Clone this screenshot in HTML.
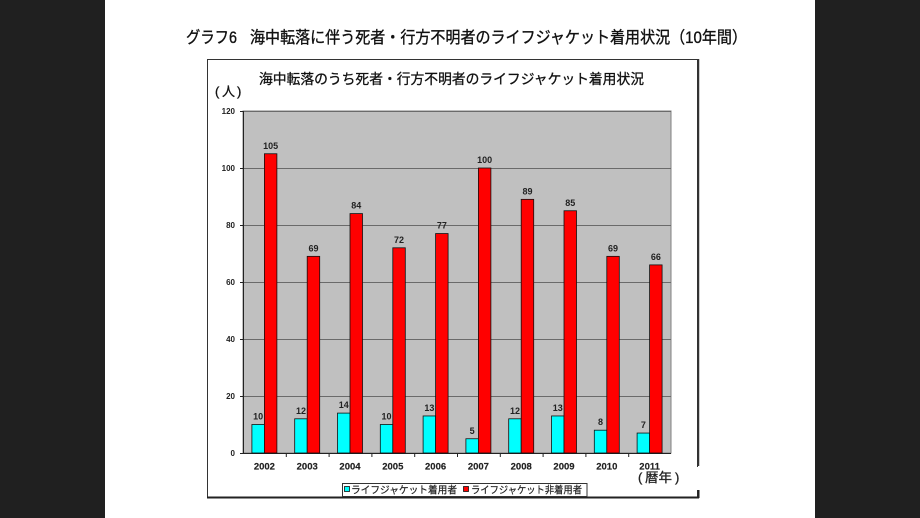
<!DOCTYPE html>
<html><head><meta charset="utf-8"><style>
html,body{margin:0;padding:0;background:#202020;}
svg{display:block;}
</style></head><body>
<svg width="920" height="518" viewBox="0 0 920 518" xmlns="http://www.w3.org/2000/svg" font-family="'Liberation Sans','Noto Sans CJK JP',sans-serif">
<rect x="0" y="0" width="920" height="518" fill="#202020"/>
<rect x="105" y="0" width="710" height="518" fill="#ffffff"/>

<!-- main title -->
<text x="186" y="43" font-size="16.5" fill="#111" stroke="#111" stroke-width="0.35" textLength="51" lengthAdjust="spacingAndGlyphs">グラフ6</text>
<text x="250" y="43" font-size="16.5" fill="#111" stroke="#111" stroke-width="0.35" textLength="497" lengthAdjust="spacingAndGlyphs">海中転落に伴う死者・行方不明者のライフジャケット着用状況（10年間）</text>

<!-- chart box -->
<rect x="207.5" y="59.5" width="490" height="437.5" fill="#fff" stroke="#333" stroke-width="1"/>
<line x1="207" y1="497.5" x2="699" y2="497.5" stroke="#222" stroke-width="2"/>
<line x1="698.5" y1="59" x2="698.5" y2="466" stroke="#333" stroke-width="1.5"/>
<rect x="690" y="467" width="12" height="23" fill="#fff"/>
<line x1="698.5" y1="490" x2="698.5" y2="498" stroke="#222" stroke-width="2"/>

<!-- chart title -->
<text x="259" y="84" font-size="14" fill="#111" stroke="#111" stroke-width="0.3" textLength="385" lengthAdjust="spacingAndGlyphs">海中転落のうち死者・行方不明者のライフジャケット着用状況</text>
<g font-size="13" fill="#111" stroke="#111" stroke-width="0.3">
<text x="215" y="96">(</text>
<text x="222" y="96">人</text>
<text x="237" y="96">)</text>
</g>

<!-- plot area -->
<rect x="243" y="111" width="428" height="342" fill="#c0c0c0" stroke="#808080" stroke-width="1"/>
<g stroke="#6a6a6a" stroke-width="1">
<line x1="243" y1="396.5" x2="671" y2="396.5"/>
<line x1="243" y1="339.5" x2="671" y2="339.5"/>
<line x1="243" y1="282.5" x2="671" y2="282.5"/>
<line x1="243" y1="225.5" x2="671" y2="225.5"/>
<line x1="243" y1="168.5" x2="671" y2="168.5"/>
<line x1="243" y1="111.5" x2="671" y2="111.5"/>
</g>
<g stroke="#222" stroke-width="1">
<line x1="243.5" y1="111" x2="243.5" y2="453"/>
<line x1="240" y1="453.5" x2="671" y2="453.5"/>
<line x1="240" y1="396.5" x2="243" y2="396.5"/>
<line x1="240" y1="339.5" x2="243" y2="339.5"/>
<line x1="240" y1="282.5" x2="243" y2="282.5"/>
<line x1="240" y1="225.5" x2="243" y2="225.5"/>
<line x1="240" y1="168.5" x2="243" y2="168.5"/>
<line x1="240" y1="111.5" x2="243" y2="111.5"/>
<line x1="286.3" y1="453" x2="286.3" y2="457"/>
<line x1="329.1" y1="453" x2="329.1" y2="457"/>
<line x1="371.9" y1="453" x2="371.9" y2="457"/>
<line x1="414.7" y1="453" x2="414.7" y2="457"/>
<line x1="457.5" y1="453" x2="457.5" y2="457"/>
<line x1="500.3" y1="453" x2="500.3" y2="457"/>
<line x1="543.1" y1="453" x2="543.1" y2="457"/>
<line x1="585.9" y1="453" x2="585.9" y2="457"/>
<line x1="628.7" y1="453" x2="628.7" y2="457"/>
</g>

<!-- y labels -->
<g font-size="8" font-weight="bold" fill="#222" text-anchor="end">
<text x="235" y="456">0</text>
<text x="235" y="399">20</text>
<text x="235" y="342">40</text>
<text x="235" y="285">60</text>
<text x="235" y="228">80</text>
<text x="235" y="171">100</text>
<text x="235" y="114">120</text>
</g>

<!-- bars cyan -->
<g fill="#00ffff" stroke="#111" stroke-width="0.8">
<rect x="251.9" y="424.5" width="12.5" height="28.5"/>
<rect x="294.7" y="418.8" width="12.5" height="34.2"/>
<rect x="337.5" y="413.1" width="12.5" height="39.9"/>
<rect x="380.3" y="424.5" width="12.5" height="28.5"/>
<rect x="423.1" y="415.95" width="12.5" height="37.05"/>
<rect x="465.9" y="438.75" width="12.5" height="14.25"/>
<rect x="508.7" y="418.8" width="12.5" height="34.2"/>
<rect x="551.5" y="415.95" width="12.5" height="37.05"/>
<rect x="594.3" y="430.2" width="12.5" height="22.8"/>
<rect x="637.1" y="433.05" width="12.5" height="19.95"/>
</g>
<!-- bars red -->
<g fill="#ff0000" stroke="#111" stroke-width="0.8">
<rect x="264.4" y="153.75" width="12.5" height="299.25"/>
<rect x="307.2" y="256.35" width="12.5" height="196.65"/>
<rect x="350.0" y="213.6" width="12.5" height="239.4"/>
<rect x="392.8" y="247.8" width="12.5" height="205.2"/>
<rect x="435.6" y="233.55" width="12.5" height="219.45"/>
<rect x="478.4" y="168" width="12.5" height="285"/>
<rect x="521.2" y="199.35" width="12.5" height="253.65"/>
<rect x="564.0" y="210.75" width="12.5" height="242.25"/>
<rect x="606.8" y="256.35" width="12.5" height="196.65"/>
<rect x="649.6" y="264.9" width="12.5" height="188.1"/>
</g>

<!-- value labels -->
<g font-size="9" font-weight="bold" fill="#222" text-anchor="middle">
<text x="258.15" y="419.5">10</text>
<text x="300.95" y="413.8">12</text>
<text x="343.75" y="408.1">14</text>
<text x="386.55" y="419.5">10</text>
<text x="429.35" y="410.95">13</text>
<text x="472.15" y="433.75">5</text>
<text x="514.95" y="413.8">12</text>
<text x="557.75" y="410.95">13</text>
<text x="600.55" y="425.2">8</text>
<text x="643.35" y="428.05">7</text>
<text x="270.65" y="148.75">105</text>
<text x="313.45" y="251.35">69</text>
<text x="356.25" y="208.6">84</text>
<text x="399.05" y="242.8">72</text>
<text x="441.85" y="228.55">77</text>
<text x="484.65" y="163">100</text>
<text x="527.45" y="194.35">89</text>
<text x="570.25" y="205.75">85</text>
<text x="613.05" y="251.35">69</text>
<text x="655.85" y="259.9">66</text>
</g>

<!-- year labels -->
<g font-size="9.5" font-weight="bold" fill="#222" text-anchor="middle" stroke="#222" stroke-width="0.15">
<text x="264.4" y="469.5">2002</text>
<text x="307.2" y="469.5">2003</text>
<text x="350.0" y="469.5">2004</text>
<text x="392.8" y="469.5">2005</text>
<text x="435.6" y="469.5">2006</text>
<text x="478.4" y="469.5">2007</text>
<text x="521.2" y="469.5">2008</text>
<text x="564.0" y="469.5">2009</text>
<text x="606.8" y="469.5">2010</text>
<text x="649.6" y="469.5">2011</text>
</g>
<g font-size="13" fill="#222" stroke="#222" stroke-width="0.3">
<text x="638" y="482">(</text>
<text x="645" y="482" textLength="27" lengthAdjust="spacingAndGlyphs">暦年</text>
<text x="675" y="482">)</text>
</g>

<!-- legend -->
<rect x="342.5" y="483.5" width="244.5" height="13" fill="#fff" stroke="#333" stroke-width="1"/>
<rect x="344.5" y="486.5" width="5" height="5" fill="#00ffff" stroke="#111" stroke-width="0.8"/>
<text x="351" y="493.5" font-size="10" fill="#222" stroke="#222" stroke-width="0.2" textLength="106" lengthAdjust="spacingAndGlyphs">ライフジャケット着用者</text>
<rect x="463.5" y="486.5" width="5" height="5" fill="#ff0000" stroke="#111" stroke-width="0.8"/>
<text x="471" y="493.5" font-size="10" fill="#222" stroke="#222" stroke-width="0.2" textLength="111" lengthAdjust="spacingAndGlyphs">ライフジャケット非着用者</text>
</svg>
</body></html>
